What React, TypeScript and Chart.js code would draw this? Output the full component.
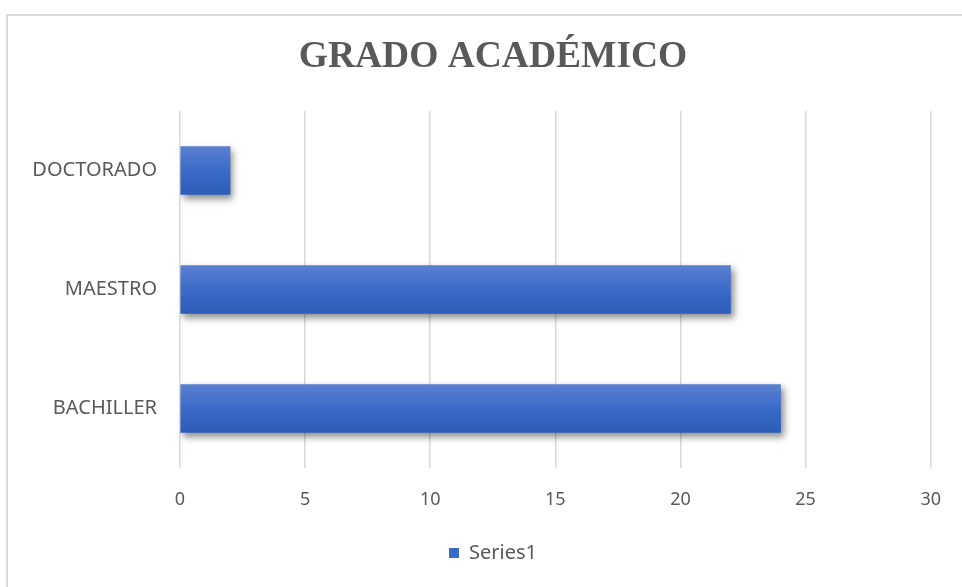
import React, { useEffect, useRef } from "react";
import { Chart, registerables } from "chart.js";

Chart.register(...registerables);

const categories = ["DOCTORADO", "MAESTRO", "BACHILLER"];
const seriesName = "Series1";
const values = [2, 22, 24];
const xTicks = [0, 5, 10, 15, 20, 25, 30];
const titleText = "GRADO ACADÉMICO";

const shadowPlugin = {
  id: "barShadow",
  beforeDatasetsDraw(chart: any) {
    const ctx = chart.ctx;
    ctx.save();
    ctx.shadowColor = "rgba(0,0,0,0.45)";
    ctx.shadowBlur = 7;
    ctx.shadowOffsetX = 3;
    ctx.shadowOffsetY = 4;
  },
  afterDatasetsDraw(chart: any) {
    chart.ctx.restore();
  },
};

export default function App() {
  const ref = useRef<HTMLCanvasElement | null>(null);

  useEffect(() => {
    if (!ref.current) return;
    const chart = new Chart(ref.current, {
      type: "bar",
      data: {
        labels: categories,
        datasets: [
          {
            label: seriesName,
            data: values,
            borderWidth: 0,
            barThickness: 48,
            backgroundColor: (c: any) => {
              const ch = c.chart;
              const ys = ch.scales && ch.scales.y;
              if (!ys || c.dataIndex === undefined) return "#3d6cc8";
              const y = ys.getPixelForValue(c.dataIndex);
              if (!isFinite(y)) return "#3d6cc8";
              const g = ch.ctx.createLinearGradient(0, y - 24, 0, y + 24);
              g.addColorStop(0, "#5a80d0");
              g.addColorStop(0.5, "#3b6bc9");
              g.addColorStop(1, "#2d5cb8");
              return g;
            },
          },
        ],
      },
      options: {
        indexAxis: "y",
        animation: false,
        responsive: false,
        maintainAspectRatio: false,
        layout: { padding: { left: 0, right: 0, top: 0, bottom: 14 } },
        scales: {
          x: {
            min: 0,
            max: 30,
            afterBuildTicks: (s: any) => {
              s.ticks = xTicks.map((v) => ({ value: v }));
            },
            afterFit: (s: any) => {
              s.height = 65;
            },
            grid: { color: "#d9d9d9", lineWidth: 1.5, drawTicks: false },
            border: { display: false },
            ticks: {
              color: "#595959",
              font: { family: "'Noto Sans', sans-serif", size: 18 },
              padding: 21,
            },
          },
          y: {
            afterFit: (s: any) => {
              s.width = 156;
            },
            grid: { display: false, drawTicks: false },
            border: { display: false },
            ticks: {
              color: "#595959",
              font: { family: "'Noto Sans', sans-serif", size: 20 },
              padding: 23,
            },
          },
          yRight: {
            position: "right",
            display: true,
            afterFit: (s: any) => {
              s.width = 31;
            },
            grid: { display: false, drawTicks: false },
            border: { display: false },
            ticks: { display: false },
          },
        },
        plugins: {
          title: {
            display: true,
            text: titleText,
            color: "#595959",
            font: { family: "'Liberation Serif', serif", size: 37.5, weight: "bold" },
            padding: { top: 35, bottom: 31 },
          },
          legend: {
            position: "bottom",
            labels: {
              color: "#595959",
              font: { family: "'Noto Sans', sans-serif", size: 20 },
              boxWidth: 10,
              boxHeight: 10,
              padding: 10,
              generateLabels: () => [
                {
                  text: seriesName,
                  fillStyle: "#3b6bc9",
                  strokeStyle: "#3b6bc9",
                  lineWidth: 0,
                  fontColor: "#595959",
                  datasetIndex: 0,
                },
              ],
            },
          },
          tooltip: { enabled: false },
        },
      },
      plugins: [shadowPlugin],
    } as any);
    return () => chart.destroy();
  }, []);

  return (
    <div style={{ position: "fixed", left: 0, top: 0, width: 962, height: 587, background: "#fff" }}>
      <div
        style={{
          position: "absolute",
          left: 6,
          top: 14,
          right: 0,
          bottom: 0,
          borderTop: "2px solid #d9d9d9",
          borderLeft: "2px solid #d9d9d9",
        }}
      />
      <canvas ref={ref} width={938} height={587} style={{ position: "absolute", left: 24, top: 0 }} />
    </div>
  );
}
